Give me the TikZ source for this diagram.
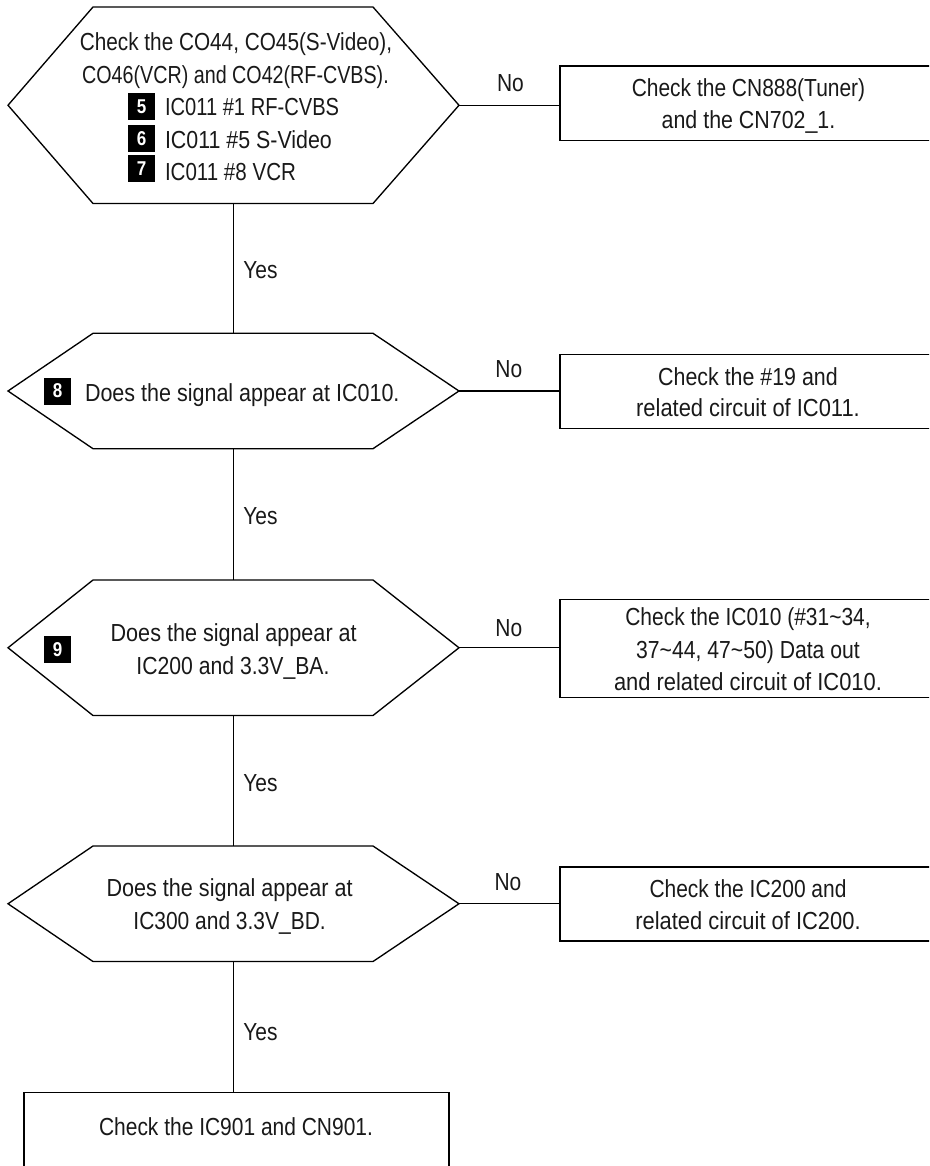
\documentclass[tikz,border=0pt]{standalone}
\usepackage{fontspec}
\setmainfont[FakeStretch=0.85]{Liberation Sans}
\newcommand{\wdt}[2]{\scalebox{#1}[1]{#2}}
\tikzset{
  x=0.75pt,y=-0.75pt,
  line/.style={draw=black,line width=1pt},
  hexbase/.style={inner sep=0pt,outer sep=0pt,minimum width=338.25pt},
  boxnode/.style={line,inner sep=0pt,outer sep=0pt,minimum width=282.75pt},
  txt/.style={inner sep=0pt,outer sep=0pt,anchor=base,font=\fontsize{18.5pt}{24.5pt}\selectfont,align=center,text=black!90},
  txtl/.style={txt,anchor=base west},
  badge/.style={fill=black,text=white,inner sep=0pt,minimum size=20.25pt,font=\fontsize{15pt}{15pt}\bfseries\selectfont},
}
\newcommand{\hexa}[3]{%
  \node[hexbase,minimum height=#3*0.75pt-#2*0.75pt] (#1) at (233.5,{(#2+#3)/2}) {};
  \draw[line,line join=miter] (#1.west) -- ([xshift=63.75pt]#1.north west) -- ([xshift=-64.5pt]#1.north east) -- (#1.east)
    -- ([xshift=-64.5pt]#1.south east) -- ([xshift=63.75pt]#1.south west) -- cycle;
}
\begin{document}
\begin{tikzpicture}
\useasboundingbox (0,0) rectangle (929,1166);
\clip (0,0) rectangle (929,1166);
\hexa{h1}{7}{203.5}
\hexa{h2}{333.3}{448.7}
\hexa{h3}{580}{715.5}
\hexa{h4}{846}{961.5}
% boxes
\node[boxnode,minimum height=55.9pt] (b1) at (748.5,103.25) {};
\node[boxnode,minimum height=55.5pt] (b2) at (748.5,391.5) {};
\node[boxnode,minimum height=73.5pt] (b3) at (748.5,648.5) {};
\node[boxnode,minimum height=55.5pt] (b4) at (748.5,904) {};
\node[line,inner sep=0pt,outer sep=0pt,minimum width=318.75pt,minimum height=75pt] (b5) at (236.5,1142.5) {};
% connectors
\draw[line] (h1.south) -- (h2.north);
\draw[line] (h2.south) -- (h3.north);
\draw[line] (h3.south) -- (h4.north);
\draw[line] (h4.south) -- (h4.south |- b5.north);
\draw[line] (h1.east) -- (h1.east -| b1.west);
\draw[line] (h2.east) -- (h2.east -| b2.west);
\draw[line] (h3.east) -- (h3.east -| b3.west);
\draw[line] (h4.east) -- (h4.east -| b4.west);
% hexagon texts
\node[txt] (t1a) at (236,51) {\wdt{0.99}{Check the CO44, CO45(S-Video),}};
\node[txt] (t1b) at (235.5,83.5) {\wdt{0.94}{CO46(VCR) and CO42(RF-CVBS).}};
\node[badge] (n5) at (141.5,106.5) {5};
\node[badge] (n6) at (141.5,138.5) {6};
\node[badge] (n7) at (141.5,168.5) {7};
\node[txtl] (t5) at (165,116) {\wdt{0.96}{IC011 \#1 RF-CVBS}};
\node[txtl] (t6) at (165,148.5) {\wdt{1.02}{IC011 \#5 S-Video}};
\node[txtl] (t7) at (165,180.5) {\wdt{0.98}{IC011 \#8 VCR}};
\node[badge] (n8) at (57.5,391) {8};
\node[txtl] (t8) at (85,401) {\wdt{1.026}{Does the signal appear at IC010.}};
\node[badge] (n9) at (57.5,649.5) {9};
\node[txt] (t9a) at (233.7,641.7) {\wdt{1.03}{Does the signal appear at}};
\node[txt] (t9b) at (233,674) {\wdt{1.01}{IC200 and 3.3V\_BA.}};
\node[txt] (t10a) at (229.6,896.7) {\wdt{1.03}{Does the signal appear at}};
\node[txt] (t10b) at (229.6,929) {IC300 and 3.3V\_BD.};
% box texts
\node[txt] (c1a) at (748.5,96.7) {Check the CN888(Tuner)};
\node[txt] (c1b) at (748.5,128.3) {\wdt{1.02}{and the CN702\_1.}};
\node[txt] (c2a) at (748,385) {\wdt{1.02}{Check the \#19 and}};
\node[txt] (c2b) at (748,416.7) {\wdt{1.045}{related circuit of IC011.}};
\node[txt] (c3a) at (748,625.7) {Check the IC010 (\#31\textasciitilde 34,};
\node[txt] (c3b) at (748,658.3) {\wdt{1.01}{37\textasciitilde 44, 47\textasciitilde 50) Data out}};
\node[txt] (c3c) at (748,690.7) {\wdt{1.045}{and related circuit of IC010.}};
\node[txt] (c4a) at (748,897.5) {Check the IC200 and};
\node[txt] (c4b) at (748,929.5) {\wdt{1.045}{related circuit of IC200.}};
\node[txt] (c5) at (236,1135) {Check the IC901 and CN901.};
% labels
\node[txt] (no1) at (510.5,91.7) {No};
\node[txt] (no2) at (508.8,377.7) {No};
\node[txt] (no3) at (508.8,636) {No};
\node[txt] (no4) at (508,890.7) {No};
\node[txt] (y1) at (260.5,278) {Yes};
\node[txt] (y2) at (260.5,524) {Yes};
\node[txt] (y3) at (260.5,791) {Yes};
\node[txt] (y4) at (260.5,1040) {Yes};
\end{tikzpicture}
\end{document}
